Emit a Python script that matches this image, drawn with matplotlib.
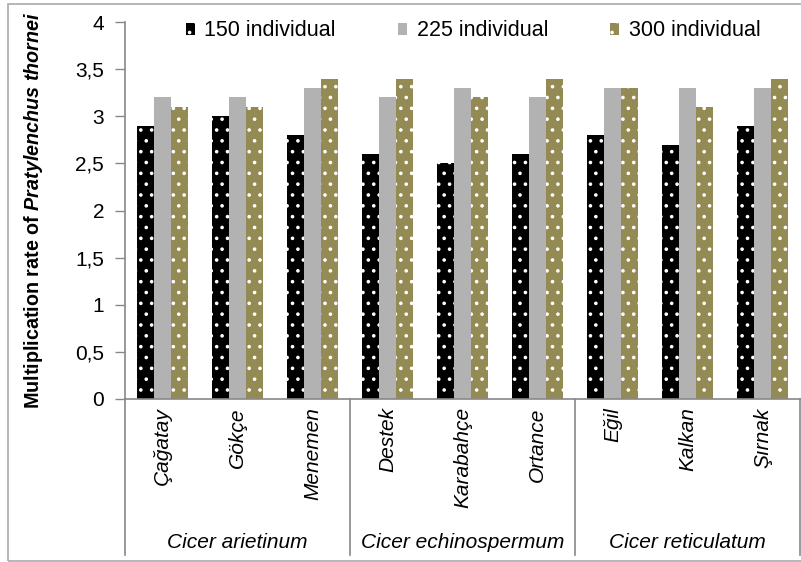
import matplotlib
matplotlib.use("Agg")
import matplotlib.pyplot as plt
import matplotlib.transforms as mtransforms
from matplotlib.patches import Rectangle
from matplotlib.lines import Line2D
import numpy as np

DPI = 130
k = 100 / DPI  # font sizes below are given as if at 100 dpi

plt.rcParams['font.family'] = ['Liberation Sans', 'DejaVu Sans']
plt.rcParams['mathtext.fontset'] = 'custom'
plt.rcParams['mathtext.bfit'] = 'Liberation Sans:italic:bold'
plt.rcParams['mathtext.it'] = 'Liberation Sans:italic'
plt.rcParams['mathtext.bf'] = 'Liberation Sans:bold'
plt.rcParams['hatch.linewidth'] = 0.8

cultivars = ['Çağatay', 'Gökçe', 'Menemen', 'Destek', 'Karabahçe', 'Ortance',
             'Eğil', 'Kalkan', 'Şırnak']
species = ['Cicer arietinum', 'Cicer echinospermum', 'Cicer reticulatum']
series_names = ['150 individual', '225 individual', '300 individual']
v150 = [2.9, 3.0, 2.8, 2.6, 2.5, 2.6, 2.8, 2.7, 2.9]
v225 = [3.2, 3.2, 3.3, 3.2, 3.3, 3.2, 3.3, 3.3, 3.3]
v300 = [3.1, 3.1, 3.4, 3.4, 3.2, 3.4, 3.3, 3.1, 3.4]
yticks = [0, 0.5, 1, 1.5, 2, 2.5, 3, 3.5, 4]
ytick_labels = ['0', '0,5', '1', '1,5', '2', '2,5', '3', '3,5', '4']

W, H = 801, 562
fig = plt.figure(figsize=(W / DPI, H / DPI), dpi=DPI)
ax = fig.add_axes([125 / W, 1 - 399 / H, 675 / W, 377 / H])

x = np.arange(len(cultivars))
w = 0.225
colors = ['#000000', '#b2b2b2', '#948a54']
hatches = ['..', None, '..']
for i, (vals, c, h, name) in enumerate(zip([v150, v225, v300], colors, hatches, series_names)):
    ax.bar(x + (i - 1) * w, vals, w, color=c, hatch=h, edgecolor='white',
           linewidth=0, label=name)

ax.set_xlim(-0.5, len(cultivars) - 0.5)
ax.set_ylim(0, 4)
ax.set_yticks(yticks)
ax.set_yticklabels(ytick_labels, fontsize=15 * k)
ax.set_xticks(x)
ax.set_xticklabels(cultivars, rotation=90, fontsize=15 * k, style='italic')
ax.tick_params(axis='x', length=0, pad=6 * k)
ax.tick_params(axis='y', length=7 * k, width=k, color='#888888', pad=8 * k)
for s in ['top', 'right']:
    ax.spines[s].set_visible(False)
for s in ['left', 'bottom']:
    ax.spines[s].set_color('#888888')
    ax.spines[s].set_linewidth(1.2 * k)

ax.set_ylabel(r'Multiplication rate of $\mathbfit{Pratylenchus\ thornei}$',
              fontsize=14.2 * k, fontweight='bold')
ax.yaxis.set_label_coords(-80 / 675, 0.5)

# group separators and species labels below the axis
trans = mtransforms.blended_transform_factory(ax.transData, fig.transFigure)
for b in [-0.5, 2.5, 5.5, 8.5]:
    fig.add_artist(Line2D([b, b], [1 - 399 / H, 1 - 555 / H], transform=trans,
                          color='#888888', lw=1.2 * k))
for j, sp in enumerate(species):
    fig.text(3 * j + 1, 1 - 543 / H, sp, transform=trans, ha='center',
             va='center', fontsize=15 * k, style='italic')

leg = fig.legend(ncol=3, loc='center left', bbox_to_anchor=(186 / W, 1 - 31 / H),
                 frameon=False, fontsize=15.5 * k, handlelength=0.4,
                 handleheight=0.45, handletextpad=0.45, columnspacing=2.9,
                 borderpad=0, borderaxespad=0)

fig.patches.append(Rectangle((8 / W, 1 / H), 1.0, 1 - 5 / H, transform=fig.transFigure,
                             fill=False, edgecolor='#aaaaaa', lw=1.2 * k))

fig.savefig('out.png', dpi=DPI)
